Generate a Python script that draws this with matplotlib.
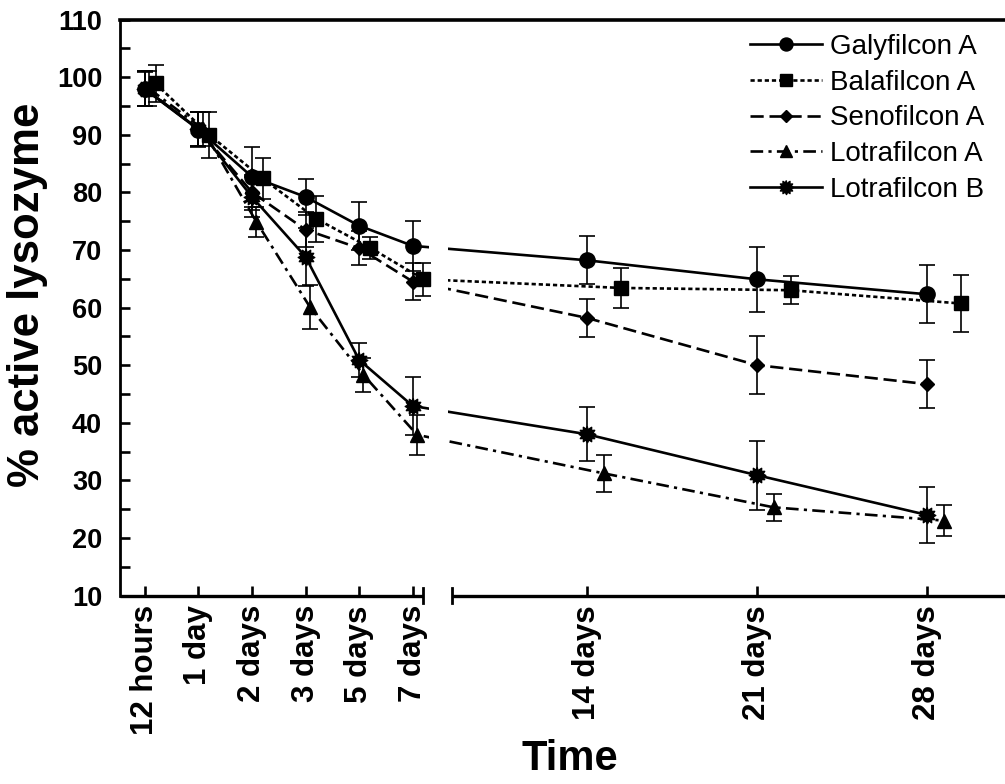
"""
Actividad de lisozima en lentes de contacto de silicona-hidrogel.

Serie temporal con eje X partido (12 h a 7 días / 14 a 28 días).
"""

import numpy as np
import matplotlib
matplotlib.use("Agg")
import matplotlib.pyplot as plt
from matplotlib.lines import Line2D
from matplotlib.path import Path
import matplotlib.transforms as mtransforms

# ---------------------------------------------------------------- datos
tiempos = ["12 hours", "1 day", "2 days", "3 days", "5 days", "7 days",
           "14 days", "21 days", "28 days"]

galyfilcon_a = [97.9, 90.9, 82.7, 79.2, 74.2, 70.7, 68.2, 64.9, 62.3]
galyfilcon_a_err = [3.0, 3.0, 5.2, 3.1, 4.2, 4.3, 4.2, 5.6, 5.0]

balafilcon_a = [98.9, 90.0, 82.4, 75.4, 70.4, 64.9, 63.4, 63.0, 60.7]
balafilcon_a_err = [3.2, 4.0, 3.5, 4.0, 1.9, 2.9, 3.5, 2.4, 4.9]

senofilcon_a = [98.0, 91.0, 80.0, 73.5, 70.3, 64.5, 58.2, 50.0, 46.7]
senofilcon_a_err = [3.0, 3.0, 3.0, 3.0, 3.0, 3.2, 3.3, 5.0, 4.1]

lotrafilcon_a = [98.0, 91.0, 74.9, 60.1, 48.3, 37.9, 31.2, 25.3, 23.0]
lotrafilcon_a_err = [3.0, 3.0, 2.6, 3.8, 3.0, 3.5, 3.2, 2.3, 2.7]

lotrafilcon_b = [98.0, 91.0, 79.2, 68.8, 50.9, 42.9, 38.0, 30.9, 24.0]
lotrafilcon_b_err = [3.0, 3.0, 3.5, 5.0, 3.0, 5.0, 4.7, 6.0, 4.9]

# ------------------------------------------------------------ maquetación
POS = np.concatenate([np.arange(6), 8.246 + 3.172 * np.arange(3)])
XLIM = (-0.472, 16.05)
CORTE_EJE = (5.198, 5.725)      # extremos del eje X partido
CORTE_LINEAS = (5.30, 5.657)    # hueco de las curvas

FUENTE = ["Liberation Sans", "DejaVu Sans"]
plt.rcParams["font.family"] = FUENTE


def _estrella(n=12, interior=0.68):
    ang = np.linspace(0, 2 * np.pi, 2 * n, endpoint=False) + np.pi / 2
    r = np.where(np.arange(2 * n) % 2 == 0, 1.0, interior)
    return list(zip(r * np.cos(ang), r * np.sin(ang)))


def _desplaza(izq, der):
    d = np.array([izq] * 6 + [der] * 3)
    return POS + d


series = [
    ("Galyfilcon A", galyfilcon_a, galyfilcon_a_err, "o", 11,
     "-", _desplaza(0, 0)),
    ("Balafilcon A", balafilcon_a, balafilcon_a_err, "s", 10,
     (0, (1.6, 1.1)), _desplaza(0.20, 0.63)),
    ("Senofilcon A", senofilcon_a, senofilcon_a_err, "D", 7.5,
     (0, (5.0, 2.2)), _desplaza(0, 0)),
    ("Lotrafilcon A", lotrafilcon_a, lotrafilcon_a_err, "^", 10,
     (0, (4.8, 2.0, 1.2, 2.0)), _desplaza(0.08, 0.32)),
    ("Lotrafilcon B", lotrafilcon_b, lotrafilcon_b_err, _estrella(), 12,
     "-", _desplaza(0, 0)),
]

fig = plt.figure(figsize=(10.05, 7.84), dpi=100)
ax = fig.add_axes([119.5 / 1005, 1 - 595.5 / 784, 1 - 119.5 / 1005, 576 / 784])

# recorte compuesto: dos rectángulos, dejando el hueco del corte
y0, y1 = -100, 300
verts = [(XLIM[0] - 1, y0), (CORTE_LINEAS[0], y0), (CORTE_LINEAS[0], y1),
         (XLIM[0] - 1, y1), (XLIM[0] - 1, y0),
         (CORTE_LINEAS[1], y0), (XLIM[1] + 1, y0), (XLIM[1] + 1, y1),
         (CORTE_LINEAS[1], y1), (CORTE_LINEAS[1], y0)]
codes = [Path.MOVETO, Path.LINETO, Path.LINETO, Path.LINETO, Path.CLOSEPOLY] * 2
recorte = Path(verts, codes)

handles = []
for i, (nombre, valores, err, marcador, tam, estilo, xs) in enumerate(series):
    z = 10 - i  # Galyfilcon queda encima
    linea, = ax.plot(xs, valores, color="black", lw=1.9, ls=estilo, zorder=2)
    linea.set_clip_path(recorte, ax.transData)
    ax.errorbar(xs, valores, yerr=err, fmt="none", ecolor="black",
                elinewidth=1.2, capsize=5.8, capthick=1.2, zorder=3)
    ax.plot(xs, valores, ls="none", marker=marcador, ms=tam, color="black",
            mec="black", zorder=z)
    handles.append(Line2D([], [], color="black", lw=1.9, ls=estilo,
                          marker=marcador, ms=tam * 0.85, label=nombre))

ax.set_xlim(*XLIM)
ax.set_ylim(10, 110)
ax.set_xticks(POS)
ax.set_xticklabels(tiempos, rotation=90, fontsize=22.5, fontweight="bold")
ax.set_yticks(np.arange(10, 111, 10))
ax.set_yticks(np.arange(15, 110, 10), minor=True)
for lab in ax.get_yticklabels():
    lab.set_fontsize(19.5)
    lab.set_fontweight("bold")
ax.tick_params(axis="both", which="both", direction="in", length=7.5,
               width=1.9, color="black")
ax.tick_params(axis="y", pad=12.5)
ax.tick_params(axis="x", pad=7)
ax.tick_params(axis="x", which="minor", bottom=False)

ax.spines["right"].set_visible(False)
ax.spines["bottom"].set_visible(False)
ax.spines["top"].set_linewidth(2.6)
ax.spines["left"].set_linewidth(2.0)

# eje X partido dibujado a mano
mezcla = mtransforms.blended_transform_factory(ax.transData, ax.transAxes)
for xa, xb in [(XLIM[0], CORTE_EJE[0]), (CORTE_EJE[1], XLIM[1])]:
    ax.add_line(Line2D([xa, xb], [0, 0], transform=mezcla, color="black",
                       lw=2.4, clip_on=False, solid_capstyle="butt"))
for xc in CORTE_EJE:
    ax.add_line(Line2D([xc, xc], [-0.013, 0.013], transform=mezcla,
                       color="black", lw=2.0, clip_on=False))

fig.text(27.5 / 1005, 1 - 295 / 784, "% active lysozyme", fontsize=31.5,
         fontweight="bold", rotation=90, ha="center", va="center")
fig.text(570 / 1005, 1 - 759 / 784, "Time", fontsize=30, fontweight="bold",
         ha="center", va="center")

ax.legend(handles=handles, loc="upper left", bbox_to_anchor=(0.712, 0.975),
          frameon=False, fontsize=20, handlelength=2.6, handletextpad=0.29,
          labelspacing=0.35, borderpad=0, borderaxespad=0)

fig.savefig("out.png", dpi=100)
